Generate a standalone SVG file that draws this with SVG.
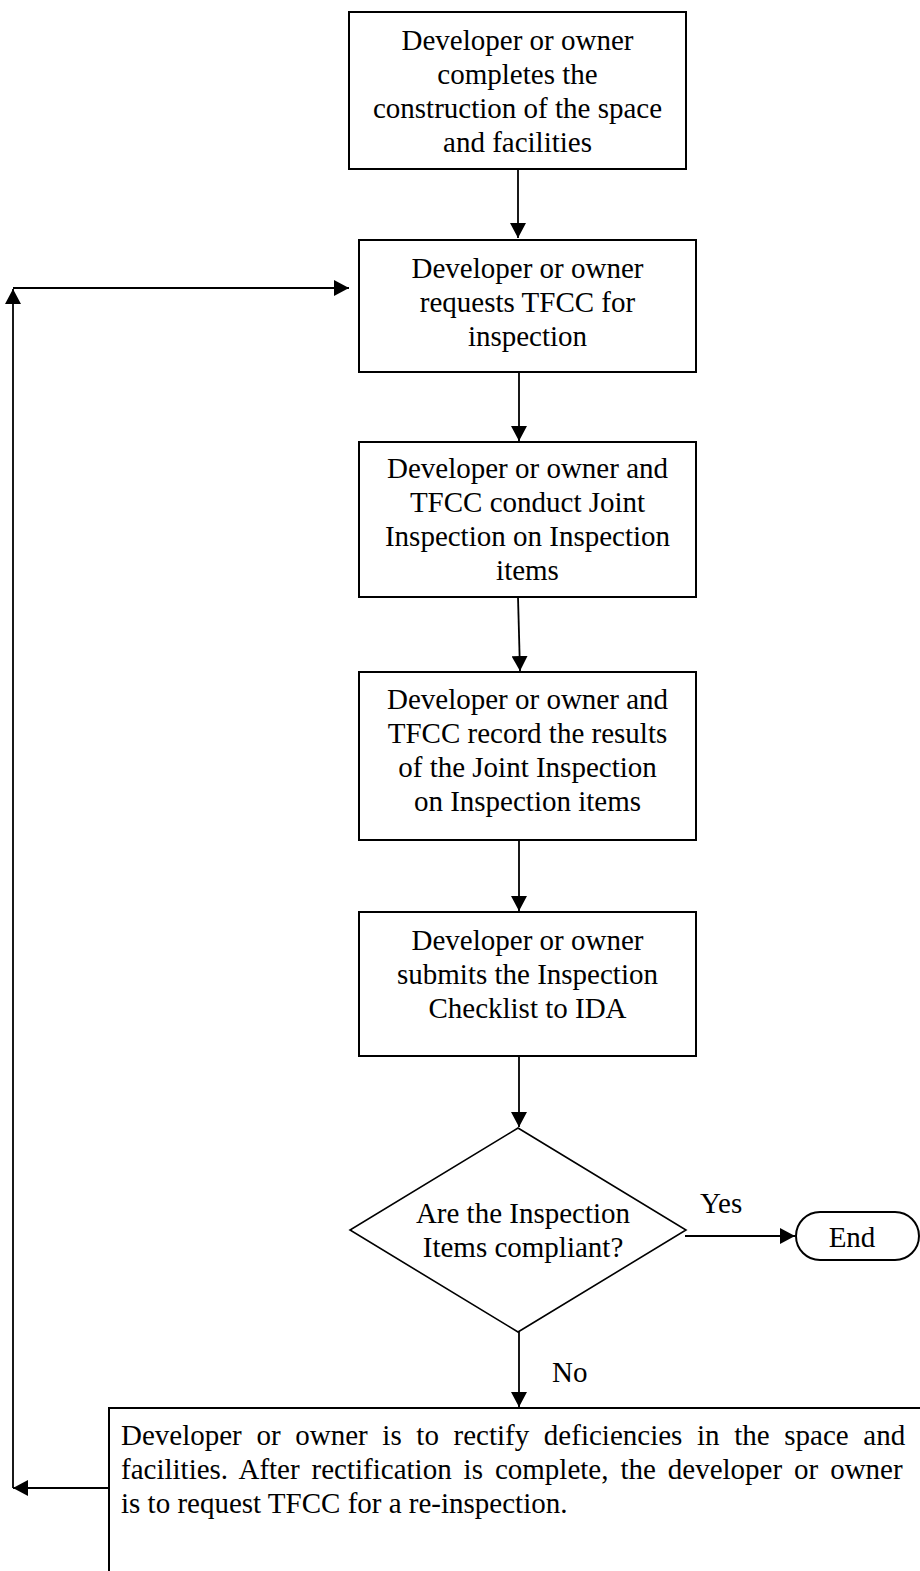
<svg xmlns="http://www.w3.org/2000/svg" width="920" height="1571" viewBox="0 0 920 1571">
<style>
.box{fill:#fff;stroke:#000;stroke-width:2}
.dia{fill:#fff;stroke:#000;stroke-width:1.6}
.t{font-family:"Liberation Serif","Times New Roman",serif;font-size:29px;fill:#000;text-anchor:middle}
.tl{font-family:"Liberation Serif","Times New Roman",serif;font-size:29px;fill:#000}
.c{fill:none;stroke:#000;stroke-width:1.8}
</style>
<defs>
<marker id="ah" markerUnits="userSpaceOnUse" markerWidth="16" markerHeight="16" refX="15" refY="8" orient="auto">
<path d="M0,0 L15,8 L0,16 z" fill="#000"/>
</marker>
</defs>
<rect width="920" height="1571" fill="#fff"/>
<g id="connectors">
<line class="c" x1="518" y1="169" x2="518" y2="238" marker-end="url(#ah)"/>
<line class="c" x1="519" y1="372" x2="519" y2="441" marker-end="url(#ah)"/>
<line class="c" x1="518" y1="597" x2="520" y2="671" marker-end="url(#ah)"/>
<line class="c" x1="519" y1="840" x2="519" y2="911" marker-end="url(#ah)"/>
<line class="c" x1="519" y1="1056" x2="519" y2="1127" marker-end="url(#ah)"/>
<line class="c" x1="685" y1="1236" x2="795" y2="1236" marker-end="url(#ah)"/>
<line class="c" x1="519" y1="1332" x2="519" y2="1407" marker-end="url(#ah)"/>
<line class="c" x1="109" y1="1488" x2="13" y2="1488" marker-end="url(#ah)"/>
<line class="c" x1="13" y1="1488" x2="13" y2="289" marker-end="url(#ah)"/>
<line class="c" x1="13" y1="288" x2="349" y2="288" marker-end="url(#ah)"/>
<text class="tl" x="700" y="1213">Yes</text>
<text class="tl" x="552" y="1382">No</text>
</g>
<g id="n1">
<rect class="box" x="349" y="12" width="337" height="157"/>
<text class="t" x="517.5" y="50">Developer or owner</text>
<text class="t" x="517.5" y="84">completes the</text>
<text class="t" x="517.5" y="118">construction of the space</text>
<text class="t" x="517.5" y="152">and facilities</text>
</g>
<g id="n2">
<rect class="box" x="359" y="240" width="337" height="132"/>
<text class="t" x="527.5" y="278">Developer or owner</text>
<text class="t" x="527.5" y="312">requests TFCC for</text>
<text class="t" x="527.5" y="346">inspection</text>
</g>
<g id="n3">
<rect class="box" x="359" y="442" width="337" height="155"/>
<text class="t" x="527.5" y="478">Developer or owner and</text>
<text class="t" x="527.5" y="512">TFCC conduct Joint</text>
<text class="t" x="527.5" y="546">Inspection on Inspection</text>
<text class="t" x="527.5" y="580">items</text>
</g>
<g id="n4">
<rect class="box" x="359" y="672" width="337" height="168"/>
<text class="t" x="527.5" y="709">Developer or owner and</text>
<text class="t" x="527.5" y="743">TFCC record the results</text>
<text class="t" x="527.5" y="777">of the Joint Inspection</text>
<text class="t" x="527.5" y="811">on Inspection items</text>
</g>
<g id="n5">
<rect class="box" x="359" y="912" width="337" height="144"/>
<text class="t" x="527.5" y="950">Developer or owner</text>
<text class="t" x="527.5" y="984">submits the Inspection</text>
<text class="t" x="527.5" y="1018">Checklist to IDA</text>
</g>
<g id="decision">
<polygon class="dia" points="518,1128 686,1230 518,1332 350,1230"/>
<text class="t" x="523" y="1223">Are the Inspection</text>
<text class="t" x="523" y="1257">Items compliant?</text>
</g>
<g id="end">
<rect class="box" x="796" y="1212" width="123" height="48" rx="24" ry="24"/>
<text class="t" x="852" y="1247">End</text>
</g>
<g id="rectify">
<rect class="box" x="109" y="1408" width="830" height="200"/>
<text class="tl" x="121" y="1445" word-spacing="7.4">Developer or owner is to rectify deficiencies in the space and</text>
<text class="tl" x="121" y="1479" word-spacing="4.7">facilities. After rectification is complete, the developer or owner</text>
<text class="tl" x="121" y="1513">is to request TFCC for a re-inspection.</text>
</g>
</svg>
